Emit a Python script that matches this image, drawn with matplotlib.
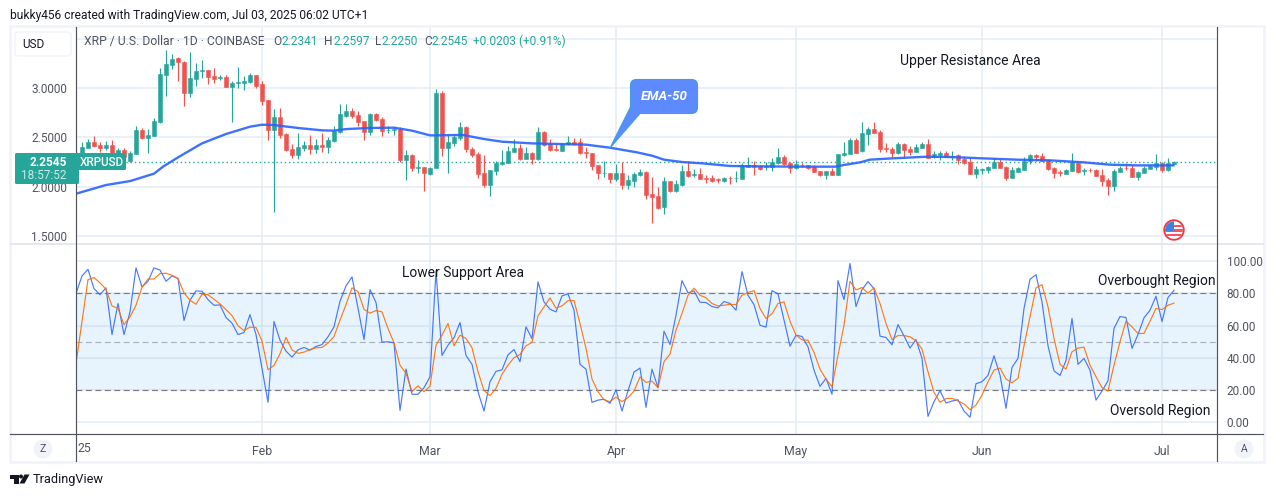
#!/usr/bin/env python3
"""XRP / USD daily TradingView chart with EMA-50 and Stochastic RSI pane"""

import matplotlib
matplotlib.use("Agg")
import matplotlib.pyplot as plt
from matplotlib.patches import Circle, FancyBboxPatch, Polygon, Rectangle

# days since Jan 1 2025, one candle per day
opens = [
    2.07, 2.34, 2.395, 2.45, 2.425, 2.39, 2.42, 2.31, 2.37, 2.257,
    2.33, 2.575, 2.495, 2.515, 2.655, 3.135, 3.235, 3.30, 3.26, 2.95,
    3.095, 3.175, 3.18, 3.12, 3.105, 3.11, 3.01, 3.055, 3.055, 3.06,
    3.13, 3.04, 2.88, 2.575, 2.705, 2.535, 2.38, 2.32, 2.39, 2.42,
    2.38, 2.42, 2.40, 2.46, 2.555, 2.72, 2.765, 2.725, 2.665, 2.555,
    2.735, 2.685, 2.57, 2.57, 2.585, 2.27, 2.325, 2.19, 2.195, 2.13,
    2.185, 2.945, 2.39, 2.445, 2.495, 2.605, 2.385, 2.335, 2.14, 2.02,
    2.16, 2.23, 2.245, 2.355, 2.395, 2.285, 2.345, 2.285, 2.555, 2.435,
    2.385, 2.365, 2.43, 2.45, 2.455, 2.355, 2.345, 2.215, 2.135, 2.14,
    2.08, 2.14, 2.02, 2.06, 2.12, 2.15, 1.93, 1.91, 1.79, 2.06,
    1.96, 2.02, 2.16, 2.12, 2.13, 2.085, 2.09, 2.075, 2.06, 2.09,
    2.085, 2.08, 2.20, 2.22, 2.21, 2.2, 2.195, 2.245, 2.305, 2.245,
    2.185, 2.22, 2.215, 2.195, 2.16, 2.12, 2.16, 2.12, 2.325, 2.335,
    2.475, 2.365, 2.537, 2.588, 2.557, 2.392, 2.385, 2.345, 2.436, 2.385,
    2.355, 2.395, 2.436, 2.301, 2.324, 2.345, 2.304, 2.324, 2.284, 2.253,
    2.132, 2.172, 2.172, 2.192, 2.253, 2.203, 2.091, 2.152, 2.172, 2.263,
    2.324, 2.314, 2.274, 2.192, 2.145, 2.132, 2.162, 2.243, 2.159, 2.172,
    2.172, 2.122, 2.071, 2.010, 2.152, 2.192, 2.192, 2.101, 2.142, 2.182,
    2.203, 2.243, 2.172, 2.2341,
]
closes = [
    2.34, 2.40, 2.45, 2.41, 2.395, 2.425, 2.30, 2.37, 2.30, 2.34,
    2.575, 2.495, 2.525, 2.665, 3.14, 3.245, 3.295, 3.26, 2.95, 3.10,
    3.17, 3.18, 3.11, 3.095, 3.11, 3.015, 3.05, 3.065, 3.07, 3.13,
    3.02, 2.87, 2.575, 2.705, 2.525, 2.37, 2.32, 2.40, 2.425, 2.38,
    2.42, 2.40, 2.47, 2.565, 2.735, 2.765, 2.715, 2.655, 2.555, 2.735,
    2.675, 2.565, 2.575, 2.58, 2.27, 2.32, 2.19, 2.2, 2.14, 2.19,
    2.945, 2.39, 2.455, 2.505, 2.605, 2.38, 2.325, 2.13, 2.02, 2.17,
    2.24, 2.255, 2.365, 2.395, 2.285, 2.345, 2.285, 2.555, 2.425, 2.375,
    2.375, 2.435, 2.455, 2.435, 2.345, 2.345, 2.205, 2.135, 2.14, 2.08,
    2.14, 2.02, 2.07, 2.13, 2.15, 1.92, 1.90, 1.785, 2.06, 1.96,
    2.03, 2.16, 2.11, 2.13, 2.08, 2.08, 2.06, 2.07, 2.09, 2.085,
    2.09, 2.22, 2.22, 2.20, 2.18, 2.205, 2.255, 2.305, 2.235, 2.185,
    2.225, 2.215, 2.185, 2.15, 2.12, 2.16, 2.12, 2.335, 2.345, 2.475,
    2.345, 2.545, 2.588, 2.547, 2.385, 2.385, 2.345, 2.436, 2.375, 2.355,
    2.405, 2.436, 2.294, 2.335, 2.345, 2.304, 2.314, 2.274, 2.243, 2.132,
    2.182, 2.182, 2.203, 2.253, 2.192, 2.091, 2.172, 2.185, 2.263, 2.324,
    2.304, 2.263, 2.182, 2.142, 2.142, 2.172, 2.253, 2.152, 2.172, 2.165,
    2.112, 2.061, 2.010, 2.162, 2.192, 2.185, 2.101, 2.152, 2.192, 2.213,
    2.243, 2.172, 2.243, 2.2545,
]
highs = [
    2.35, 2.455, 2.48, 2.515, 2.455, 2.46, 2.47, 2.39, 2.39, 2.36,
    2.61, 2.59, 2.58, 2.70, 3.20, 3.39, 3.34, 3.31, 3.27, 3.365,
    3.25, 3.28, 3.18, 3.20, 3.135, 3.135, 3.07, 3.21, 3.12, 3.15,
    3.13, 3.07, 2.88, 2.79, 2.80, 2.54, 2.43, 2.54, 2.46, 2.52,
    2.48, 2.54, 2.50, 2.62, 2.84, 2.84, 2.80, 2.77, 2.67, 2.75,
    2.745, 2.71, 2.62, 2.60, 2.60, 2.37, 2.33, 2.27, 2.2, 2.20,
    2.99, 2.97, 2.52, 2.53, 2.66, 2.62, 2.40, 2.35, 2.32, 2.17,
    2.26, 2.37, 2.41, 2.48, 2.43, 2.40, 2.35, 2.60, 2.56, 2.48,
    2.44, 2.44, 2.51, 2.49, 2.49, 2.40, 2.345, 2.22, 2.26, 2.14,
    2.23, 2.25, 2.12, 2.15, 2.175, 2.155, 2.10, 2.0, 2.10, 2.06,
    2.07, 2.22, 2.265, 2.18, 2.19, 2.12, 2.12, 2.09, 2.10, 2.11,
    2.16, 2.24, 2.30, 2.26, 2.22, 2.25, 2.29, 2.39, 2.32, 2.25,
    2.27, 2.24, 2.22, 2.22, 2.16, 2.16, 2.19, 2.335, 2.45, 2.49,
    2.49, 2.66, 2.60, 2.659, 2.57, 2.446, 2.405, 2.45, 2.44, 2.415,
    2.436, 2.456, 2.487, 2.365, 2.358, 2.365, 2.365, 2.33, 2.314, 2.30,
    2.213, 2.192, 2.21, 2.294, 2.284, 2.21, 2.203, 2.203, 2.304, 2.335,
    2.335, 2.345, 2.284, 2.2, 2.172, 2.18, 2.345, 2.25, 2.192, 2.192,
    2.179, 2.182, 2.091, 2.182, 2.213, 2.243, 2.22, 2.155, 2.206, 2.226,
    2.335, 2.25, 2.294, 2.2597,
]
lows = [
    2.05, 2.335, 2.39, 2.40, 2.355, 2.37, 2.28, 2.28, 2.27, 2.25,
    2.33, 2.48, 2.34, 2.515, 2.65, 2.92, 3.19, 3.07, 2.82, 2.91,
    3.02, 3.10, 3.04, 3.05, 3.08, 3.015, 2.66, 3.0, 2.98, 3.055,
    3.0, 2.83, 2.47, 1.74, 2.49, 2.36, 2.29, 2.28, 2.36, 2.33,
    2.34, 2.35, 2.34, 2.45, 2.54, 2.71, 2.70, 2.61, 2.47, 2.52,
    2.67, 2.51, 2.54, 2.52, 2.25, 2.07, 2.16, 2.14, 1.96, 2.12,
    2.185, 2.31, 2.14, 2.41, 2.47, 2.35, 2.30, 2.09, 2.0, 1.91,
    2.12, 2.22, 2.24, 2.35, 2.27, 2.28, 2.23, 2.275, 2.41, 2.36,
    2.36, 2.365, 2.42, 2.42, 2.33, 2.29, 2.17, 2.08, 2.10, 2.04,
    2.06, 1.98, 1.975, 2.0, 2.11, 1.88, 1.63, 1.77, 1.72, 1.95,
    1.95, 2.01, 2.10, 2.10, 2.08, 2.04, 2.05, 2.04, 2.05, 2.03,
    2.05, 2.075, 2.2, 2.12, 2.17, 2.17, 2.16, 2.23, 2.22, 2.135,
    2.18, 2.20, 2.18, 2.15, 2.11, 2.08, 2.12, 2.12, 2.31, 2.33,
    2.34, 2.355, 2.42, 2.54, 2.355, 2.355, 2.304, 2.335, 2.294, 2.324,
    2.35, 2.39, 2.29, 2.294, 2.274, 2.30, 2.274, 2.233, 2.233, 2.132,
    2.091, 2.132, 2.142, 2.19, 2.19, 2.071, 2.088, 2.15, 2.17, 2.233,
    2.263, 2.26, 2.172, 2.091, 2.112, 2.13, 2.16, 2.142, 2.122, 2.152,
    2.11, 2.010, 1.919, 1.959, 2.15, 2.172, 2.10, 2.071, 2.14, 2.18,
    2.172, 2.152, 2.159, 2.2250,
]

# EMA-50 at its bends
ema_days = [
    0, 5, 9, 13, 14.5, 17, 21, 25, 29, 31, 33, 37, 41, 43, 45, 49, 53, 56, 59,
    64.5, 68, 71, 76, 81, 85, 89, 93.5, 96, 98, 101, 104.5, 109, 114.5, 120,
    126.5, 128, 130.7, 132.3, 136, 141.8, 145.7, 151.2, 156.8, 162.3, 167.9,
    172.3, 176.8, 182.9,
]
ema_values = [
    1.929, 2.017, 2.057, 2.132, 2.203, 2.297, 2.439, 2.534, 2.608, 2.628,
    2.625, 2.595, 2.571, 2.568, 2.584, 2.595, 2.598, 2.568, 2.52,
    2.524, 2.483, 2.456, 2.439, 2.432, 2.426, 2.395, 2.348, 2.314, 2.274,
    2.25, 2.236, 2.21, 2.206, 2.203, 2.203, 2.22, 2.247, 2.274, 2.287, 2.304,
    2.301, 2.287, 2.274, 2.267, 2.247, 2.223, 2.216, 2.216,
]

rsi_k = [
    80, 90.9, 95, 83, 79.3, 83.5, 54.5, 73.8, 54.5, 68.6,
    95.9, 84.1, 87.6, 95.9, 94.6, 87.6, 90.9, 89.3, 63.2, 75.8,
    81.6, 81.4, 76.2, 72.7, 72.9, 65.1, 61.6, 54.5, 55.8, 66.9,
    54.5, 33.5, 12.4, 62.6, 51, 44.2, 40.5, 45, 46.5, 44.8,
    47.1, 48.3, 53.1, 59.3, 75.2, 84.7, 90.3, 70.7, 51.4, 82.4,
    74.4, 49.8, 50, 49.4, 7.4, 33.1, 17.4, 17.4, 21.5, 28.3,
    94.2, 41.5, 47.9, 52.5, 62, 41.5, 36, 19, 7, 25.2,
    31.6, 32.6, 41.9, 45.2, 37.6, 59.3, 51.9, 87.2, 74.8, 70.2,
    68.6, 78.5, 79.8, 69.6, 36, 33, 12.4, 13.8, 14.3, 11.8,
    20.2, 7, 19.6, 31.2, 33.7, 9.3, 33, 21.5, 56.6, 48.3,
    66.5, 88, 80.4, 81.6, 74.6, 74.4, 71.9, 71.1, 75, 73.8,
    69.6, 93.6, 78.9, 73.1, 60.3, 59.1, 81.8, 79.8, 63.4, 47.3,
    54.1, 53.3, 46.9, 32.4, 22.3, 27.3, 17.4, 88, 76.2, 98.6,
    71.9, 82.4, 87.4, 83, 53.5, 52.7, 48.1, 60.7, 53.7, 46.1,
    51.4, 39.7, 3.7, 12.8, 19.6, 12, 13.2, 14, 7, 3.1,
    24, 25.2, 29.1, 41.3, 29.3, 8.7, 34.1, 39.7, 70.7, 88.8,
    91.7, 74.8, 47.5, 32, 29.1, 38.4, 64.5, 36, 39.7, 32.4,
    13.8, 19.4, 25.8, 58.3, 65.7, 65.1, 45.9, 54.5, 64.9, 69.6,
    78.3, 62.6, 77.5, 82,
]
rsi_d = [
    36.6, 62.4, 88.6, 89.9, 86.6, 82.6, 72.3, 70.7, 60.7, 65.5,
    72.7, 83.9, 89, 89, 92.4, 92.6, 91.3, 89.3, 80.4, 75.8,
    73.3, 79.5, 79.3, 76.4, 73.6, 70, 66.3, 59.9, 57, 59.1,
    58.9, 50.6, 32.6, 35.3, 42.6, 52.7, 45, 42.8, 43.6, 45.2,
    46.3, 46.5, 49.2, 53.3, 63.4, 73.1, 83.5, 81.2, 70.2, 67.8,
    69.4, 68.6, 58.3, 49.4, 35.5, 30.4, 19, 22.7, 19, 22.4,
    47.9, 54.1, 61.4, 47.5, 54.1, 52.1, 46.3, 31.4, 19.8, 16.5,
    21.1, 29.8, 35.5, 40.1, 42.1, 47.5, 49.6, 66.1, 71.7, 77.3,
    70.9, 72.3, 75.6, 75.6, 61.4, 45.9, 26.9, 19, 14, 12.8,
    15.7, 12.8, 15.3, 19.4, 28.1, 24.8, 25.6, 21.5, 37.6, 42.4,
    57.2, 67.6, 78.9, 83.3, 78.9, 77.3, 73.8, 72.3, 72.7, 73.3,
    73.1, 78.9, 80.6, 81.8, 70.7, 64.5, 67.4, 73.8, 74.8, 62.8,
    54.1, 51.2, 51, 43.4, 33, 26.9, 22.1, 41.7, 60.3, 87.6,
    82.2, 83.7, 80.2, 83.5, 73.8, 61.4, 51.4, 53.9, 53.9, 53.1,
    50.6, 45.5, 31.4, 18.6, 12.4, 14.7, 14.9, 13.2, 11.4, 7.9,
    10.7, 16.9, 25.2, 32.4, 33.7, 26.9, 24.6, 27.3, 47.5, 65.5,
    83.5, 85.5, 71.7, 52.1, 36, 33, 43.8, 46.1, 46.7, 35.5,
    28.3, 21.5, 19.4, 35.5, 50, 62.8, 59.3, 55.2, 55.2, 62.8,
    70.7, 70, 72.7, 74,
]

price_ticks = [1.5, 2.0, 2.5, 3.0, 3.5]
price_labels = ["1.5000", "2.0000", "2.5000", "3.0000", ""]
rsi_ticks = [0, 20, 40, 60, 80, 100]
rsi_labels = ["0.00", "20.00", "40.00", "60.00", "80.00", "100.00"]
month_days = [31, 59, 90, 120, 151, 181]
month_labels = ["Feb", "Mar", "Apr", "May", "Jun", "Jul"]
last_price = closes[-1]

W, H = 1281, 497
UP = "#26a69a"
DOWN = "#ef5350"
GRID = "#e4edf4"
TEXT = "#50535e"
AXIS = "#50535e"
FRAME = "#f0f3fa"
FONT = "Roboto"

plt.rcParams["font.family"] = [FONT, "DejaVu Sans"]


def px_axes(fig, x0, y0, x1, y1, **kw):
    """axes placed by pixel box, y measured from the top"""
    return fig.add_axes([x0 / W, 1 - y1 / H, (x1 - x0) / W, (y1 - y0) / H], **kw)


def style_pane(ax):
    ax.set_xlim(0, (1217 - 76) / 6)
    for s in ax.spines.values():
        s.set_visible(False)
    ax.tick_params(length=0)
    ax.set_xticks(month_days)
    ax.grid(True, color=GRID, linewidth=1.1)
    ax.set_axisbelow(True)


fig = plt.figure(figsize=(W / 100, H / 100), dpi=100, facecolor="white")

# price pane
ax1 = px_axes(fig, 76, 27, 1217, 243)
style_pane(ax1)
ax1.set_ylim(3 - (243 - 88) / 98.7, 3 + (88 - 27) / 98.7)
ax1.set_yticks(price_ticks)
ax1.set_yticklabels(price_labels, fontsize=8.5, color=TEXT)
ax1.tick_params(axis="y", pad=6.5)
ax1.set_xticklabels([])

days = list(range(len(opens)))
colors = [UP if c >= o else DOWN for o, c in zip(opens, closes)]
ax1.vlines(days, lows, highs, colors=colors, linewidth=0.85, zorder=2)
ax1.bar(days, [c - o for o, c in zip(opens, closes)], bottom=opens, width=0.78,
        color=colors, edgecolor=colors, linewidth=0.4, zorder=3)
ax1.plot(ema_days, ema_values, color="#2962ff", linewidth=1.7, alpha=0.9, zorder=4)
ax1.axhline(last_price, color=UP, linewidth=1, linestyle=(0, (1, 2)), zorder=1.5)

# stochastic rsi pane
ax2 = px_axes(fig, 76, 244, 1217, 434)
style_pane(ax2)
ax2.set_ylim((422.3 - 434) / 1.61, (422.3 - 244) / 1.61)
ax2.set_yticks(rsi_ticks)
ax2.set_yticklabels(rsi_labels, fontsize=8.5, color=TEXT)
ax2.yaxis.tick_right()
ax2.tick_params(axis="y", pad=7)
ax2.set_xticklabels(month_labels, fontsize=8.8, color=TEXT)
ax2.tick_params(axis="x", pad=8)
ax2.axhspan(20, 80, facecolor="#2196f3", alpha=0.1, linewidth=0, zorder=1)
ax2.axhline(80, color="#787b86", linewidth=0.85, linestyle=(0, (5, 3)), zorder=2)
ax2.axhline(50, color="#787b86", linewidth=0.85, linestyle=(0, (5, 3)), alpha=0.55, zorder=2)
ax2.axhline(20, color="#787b86", linewidth=0.85, linestyle=(0, (5, 3)), zorder=2)
ax2.plot(days, rsi_k, color="#2962ff", linewidth=0.85, alpha=0.85, zorder=3)
ax2.plot(days, rsi_d, color="#ff6d00", linewidth=0.85, alpha=0.9, zorder=4)

# everything else sits on a pixel overlay
over = fig.add_axes([0, 0, 1, 1], facecolor="none")
over.set_xlim(0, W)
over.set_ylim(H, 0)
over.axis("off")

# frame and axis lines
over.add_patch(Rectangle((10, 26), 1254, 436, fill=False, edgecolor=FRAME, linewidth=2))
over.plot([11, 1263], [243.5, 243.5], color="#e0e3eb", linewidth=1.2)
over.plot([10, 1263], [434, 434], color=AXIS, linewidth=0.85)
over.plot([76, 76], [27, 461], color=AXIS, linewidth=0.85)
over.plot([1217, 1217], [27, 461], color=AXIS, linewidth=0.85)

over.text(10, 15, "bukky456 created with TradingView.com, Jul 03, 2025 06:02 UTC+1",
          fontsize=8.65, color="#131722", va="center")

# usd button
over.add_patch(FancyBboxPatch((15, 32), 56, 24, boxstyle="round,pad=0,rounding_size=3",
                              facecolor="white", edgecolor=FRAME, linewidth=1, zorder=5))
over.text(33, 44.5, "USD", fontsize=8.5, color="#131722", ha="center", va="center", zorder=6)

# legend row
over.text(84, 41.5, "XRP / U.S. Dollar · 1D · COINBASE", fontsize=8.75, color=TEXT, va="center")
for x, letter, val_x, val in [(273, "O", 281, "2.2341"), (324, "H", 333, "2.2597"),
                              (375, "L", 381, "2.2250"), (424, "C", 432, "2.2545")]:
    over.text(x, 41.5, letter, fontsize=8.6, color=TEXT, va="center")
    over.text(val_x, 41.5, val, fontsize=8.6, color=UP, va="center")
over.text(473, 41.5, "+0.0203 (+0.91%)", fontsize=8.6, color=UP, va="center")

# last price labels
over.add_patch(FancyBboxPatch((15, 153), 64, 31, boxstyle="round,pad=0,rounding_size=1.5",
                              facecolor=UP, edgecolor="none", zorder=5))
over.add_patch(FancyBboxPatch((78, 153), 48, 17, boxstyle="round,pad=0,rounding_size=1.5",
                              facecolor=UP, edgecolor="none", zorder=5))
over.text(67, 162, "2.2545", fontsize=8.5, color="white", ha="right", va="center",
          fontweight="bold", zorder=6)
over.text(67, 175.5, "18:57:52", fontsize=8.5, color="#c8ebe7", ha="right", va="center", zorder=6)
over.text(80, 162, "XRPUSD", fontsize=8.4, color="white", va="center", fontweight="medium", zorder=6)

# ema-50 callout
callout = "#5d8aff"
over.add_patch(Polygon([(610, 148), (631, 106), (640, 113.5)], closed=True, facecolor=callout,
                       edgecolor="#3f9fe0", linewidth=0.8, zorder=5))
over.add_patch(FancyBboxPatch((630.5, 79.5), 67, 34, boxstyle="round,pad=0,rounding_size=6",
                              facecolor=callout, edgecolor="#3f9fe0", linewidth=0.8, zorder=5))
over.add_patch(Rectangle((631.5, 100), 10, 12.5, facecolor=callout, edgecolor="none", zorder=5))
over.text(664, 96.5, "EMA-50", fontsize=9.5, color="white", style="italic", fontweight="bold",
          ha="center", va="center", zorder=6)

# text annotations
for x, y, label in [(900, 60.5, "Upper Resistance Area"), (402, 273.5, "Lower Support Area"),
                    (1098, 281.5, "Overbought Region"), (1110, 411.5, "Oversold Region")]:
    over.text(x, y, label, fontsize=10, color="#131722", va="center")

# us flag event marker
flag = Circle((1174, 230), 8.8, facecolor="white", edgecolor="none", zorder=5)
over.add_patch(flag)
for y in [224.5, 229, 233.5]:
    stripe = Rectangle((1164, y), 20, 2.6, facecolor="#f7525f", edgecolor="none", zorder=6)
    over.add_patch(stripe)
    stripe.set_clip_path(flag)
canton = Rectangle((1164, 220), 10, 10.5, facecolor="#3d83e0", edgecolor="none", zorder=7)
over.add_patch(canton)
canton.set_clip_path(flag)
over.add_patch(Circle((1174, 230), 9.8, fill=False, edgecolor="#f23645", linewidth=1.3, zorder=8))

# time axis extras
over.text(77, 448.5, "25", fontsize=8.8, color=TEXT, va="center")
for cx, letter in [(43, "Z"), (1244, "A")]:
    over.add_patch(Circle((cx, 449), 9.5, facecolor=FRAME, edgecolor="none"))
    over.text(cx, 449.5, letter, fontsize=7.5, color=TEXT, ha="center", va="center")

# tradingview logo
logo = "#131722"
over.add_patch(Polygon([(10, 474.5), (18.5, 474.5), (18.5, 483.5), (14, 483.5), (14, 478.5), (10, 478.5)],
                       closed=True, facecolor=logo, edgecolor="none"))
over.add_patch(Circle((21, 476.5), 2, facecolor=logo, edgecolor="none"))
over.add_patch(Polygon([(24.5, 474.5), (29.5, 474.5), (24.5, 483.5), (19.5, 483.5)],
                       closed=True, facecolor=logo, edgecolor="none"))
over.text(33, 479.5, "TradingView", fontsize=9.2, color=logo, va="center")

fig.savefig("out.png", dpi=100, facecolor="white")
